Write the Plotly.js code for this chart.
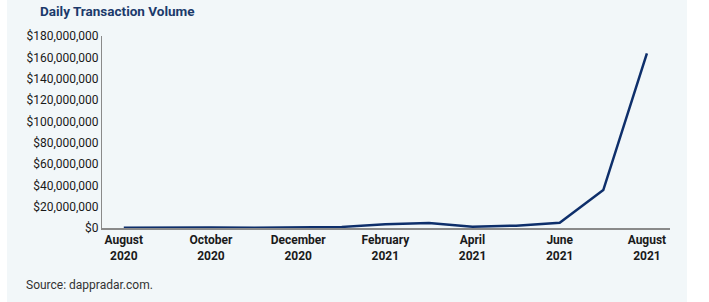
<!DOCTYPE html>
<html>
<head>
<meta charset="utf-8">
<script src="https://cdn.plot.ly/plotly-3.0.1.min.js"></script>
<style>
html,body{margin:0;padding:0;background:#fff;}
#bg{position:absolute;left:7px;top:0;width:680px;height:302px;background:#f2f7f9;}
#chart{position:absolute;left:0;top:0;width:709px;height:302px;}
</style>
</head>
<body>
<div id="bg"></div>
<div id="chart"></div>
<script>
const months = ["Aug 2020","Sep 2020","Oct 2020","Nov 2020","Dec 2020","Jan 2021","Feb 2021","Mar 2021","Apr 2021","May 2021","Jun 2021","Jul 2021","Aug 2021"];
const volume = [300000, 700000, 400000, 300000, 400000, 1000000, 3500000, 4700000, 1200000, 2200000, 5000000, 35600000, 163800000];
const tickPositions = [0, 2, 4, 6, 8, 10, 12];
const tickLabels = ["August<br>2020","October<br>2020","December<br>2020","February<br>2021","April<br>2021","June<br>2021","August<br>2021"];
const yTicks = [0,20000000,40000000,60000000,80000000,100000000,120000000,140000000,160000000,180000000];
const yLabels = yTicks.map(v => "$" + v.toLocaleString("en-US"));

const xIdx = months.map((m, i) => i);
const font = "'Roboto', 'Liberation Sans', sans-serif";

Plotly.newPlot("chart", [{
  x: xIdx, y: volume, type: "scatter", mode: "lines",
  line: {color: "#0e2f6b", width: 2.5}, text: months, hoverinfo: "text+y"
}], {
  width: 709, height: 302,
  margin: {l: 102, r: 39, t: 36, b: 74},
  paper_bgcolor: "rgba(0,0,0,0)", plot_bgcolor: "rgba(0,0,0,0)",
  showlegend: false,
  xaxis: {range: [-0.5, 12.53], tickvals: tickPositions, ticktext: tickLabels.map(t => "<b>" + t.replace("<br>", "</b><br><b>") + "</b>"),
          showgrid: false, zeroline: false, showline: true, linecolor: "#8a8a8a", linewidth: 1.5,
          ticks: "", tickfont: {family: font, size: 12, color: "#1a1a1a"}},
  yaxis: {range: [0, 180000000], tickvals: yTicks, ticktext: yLabels, showgrid: false, zeroline: false,
          showline: true, linecolor: "#8a8a8a", linewidth: 1, ticks: "", ticklen: 0,
          tickfont: {family: font, size: 12, color: "#1a1a1a"}},
  annotations: [
    {text: "<b>Daily Transaction Volume</b>", xref: "paper", yref: "paper",
     x: (26-102)/568, y: 1 + (36-11)/192, xanchor: "left", yanchor: "middle", xshift: 12,
     showarrow: false, font: {family: font, size: 13.5, color: "#1b3a6b"}},
    {text: "Source: dappradar.com.", xref: "paper", yref: "paper",
     x: (26-102)/568, y: -(285-228)/192, xanchor: "left", yanchor: "middle", xshift: -2,
     showarrow: false, font: {family: font, size: 12, color: "#333"}}]
}, {displayModeBar: false, staticPlot: true});
</script>
</body>
</html>
